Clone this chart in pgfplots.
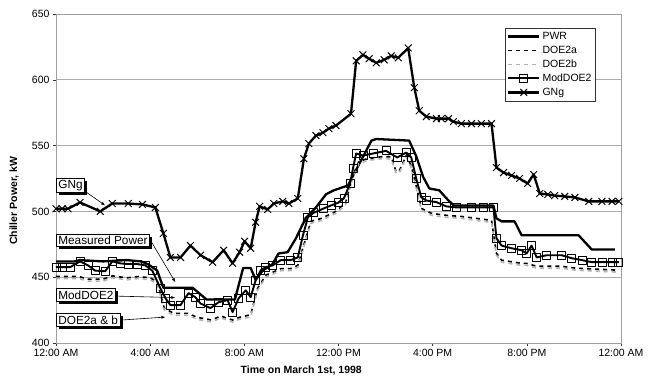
\documentclass[border=0pt]{standalone}
\usepackage{pgfplots}
\pgfplotsset{compat=1.18}
\usepackage{pgfplotstable}
\usepackage{fontspec}
\setmainfont{Liberation Sans}
\usetikzlibrary{shadows,arrows.meta}

\pgfplotstableread{
h v
0.0 462
0.8 462
1.0 463
2.0 462
3.0 463
3.6 462
3.9 460
4.3 455
4.56 442
5.8 442
6.4 433
7.6 433
7.95 457
8.27 457
8.48 448
8.78 455
9.2 460
9.45 468
9.84 469
10.19 479.5
10.61 495
11.04 503
11.47 513
11.8 516
12.4 519.7
13.4 553.8
13.6 555
15.0 553.8
15.3 542
15.6 526
15.86 517.4
16.28 516
16.67 508.3
16.9 504.5
18.58 504.5
18.71 494.7
18.93 492.4
19.48 492.4
19.78 481.8
22.2 481.8
22.76 471
23.74 471
}\pwr

\pgfplotstableread{
h v
0.0 449
1.0 449
1.3 447
2.0 447
2.4 449.5
3.0 448
3.5 449
4.0 448
4.3 445
4.6 425
5.0 421
5.6 421
6.0 418
6.6 416
7.0 419
7.5 416
7.8 418
8.27 420
8.56 440
8.91 450
9.55 455
9.97 455
10.27 457.6
10.61 478
10.83 491
11.25 493
11.89 498.5
12.3 505
12.6 525
12.85 536
13.2 538.6
13.8 540
14.24 540
14.45 528.8
14.6 530
14.88 541
15.09 533
15.3 518
15.52 500.8
15.95 497
16.58 495.5
17.2 494.7
18.5 491.7
18.71 466.7
18.93 461.4
19.78 459
19.99 459
20.42 456.8
21.48 456.8
22.12 455.3
23.91 453.8
}\doeb

\pgfplotstableread{
h v
0.0 450.5
1.0 450.5
1.3 448.5
2.0 448.5
2.4 451
3.0 449.5
3.5 450.5
4.0 449.5
4.3 446.5
4.6 426.5
5.0 422.5
5.6 422.5
6.0 419.5
6.6 417.5
7.0 420.5
7.5 417.5
7.8 419.5
8.27 421.5
8.56 441.5
8.91 451.5
9.55 456.5
9.97 456.5
10.27 459
10.61 479.5
10.83 492.5
11.25 494.5
11.89 500
12.3 506.5
12.6 526.5
12.85 537.5
13.2 540
13.8 541.5
14.24 541.5
14.45 530
14.6 531.5
14.88 542.5
15.09 534.5
15.3 519.5
15.52 502.3
15.95 498.5
16.58 497
17.2 496.2
18.5 493.2
18.71 468.2
18.93 462.9
19.78 460.5
19.99 460.5
20.42 458.3
21.48 458.3
22.12 456.8
23.91 455.3
}\doea

\pgfplotstableread{
h v
0.0 457.6
0.26 457.6
0.6 457.6
1.02 462
1.36 459
1.66 455
2.09 454.5
2.39 462
2.73 460.5
3.07 460
3.45 460
3.79 459
4.09 455
4.43 441.7
4.65 434
4.86 428.8
5.29 428.8
5.63 437.9
5.92 434.8
6.14 430
6.56 426.5
6.91 431
7.29 432.6
7.50 423.5
7.76 434
8.06 440
8.27 434.8
8.48 447.7
8.70 455.3
8.91 457.6
9.21 459
9.55 463
9.97 463
10.27 465
10.49 481.8
10.70 495.5
10.95 499
11.34 502
11.68 504.5
11.98 506.5
12.23 510
12.49 521
12.62 533
12.75 544
13.04 542.4
13.47 544
14.02 546
14.49 541
14.88 544.7
15.09 541
15.30 525
15.52 510.6
15.73 508.3
16.16 507
16.58 503.8
17.01 503
17.65 503
18.16 503
18.58 503
18.71 479.5
18.93 474
19.35 472
19.78 470.5
19.99 468
20.20 474
20.42 465
20.84 466.7
21.48 466.7
21.91 464.4
22.34 463
22.76 461.4
23.19 461.4
23.62 461.4
23.91 461.4
}\moddoe

\pgfplotstableread{
h v
0.0 502
0.26 502
0.51 502
1.02 506.8
1.88 500
2.39 506
3.07 506
3.67 505.3
4.22 503
4.56 483.3
4.86 465
5.29 465
5.71 474
6.14 466.7
6.65 461.4
7.12 470.5
7.50 460.6
7.80 469
8.01 477.3
8.27 472
8.48 491.7
8.65 503.8
8.99 501.5
9.25 506
9.63 507.6
9.89 506
10.27 509.8
10.53 540
10.74 551.5
11.04 557.6
11.34 559.8
11.59 562.9
11.89 565.2
12.53 574.2
12.75 614.4
13.04 619
13.30 616
13.60 612.9
13.94 615.2
14.24 618.2
14.54 616.7
14.96 624.2
15.22 594
15.43 576.5
15.73 572
16.16 570.5
16.37 570.5
16.67 570.5
16.88 568.2
17.22 566.7
17.65 566.7
18.07 566.7
18.50 566.7
18.71 533.3
19.01 529.5
19.35 527.3
19.69 525
20.03 521.2
20.29 528
20.55 513.6
20.89 512.9
21.18 512
21.61 511.4
22.04 510.6
22.63 507.6
23.19 507.6
23.62 507.6
23.91 507.6
}\gng

\begin{document}
\begin{tikzpicture}
\path[use as bounding box] (-56pt,-36pt) rectangle (594pt,343pt);
\begin{axis}[
  at={(0,0)}, anchor=south west,
  width=565pt, height=329pt, scale only axis,
  xmin=0, xmax=24, ymin=400, ymax=650,
  xtick={0,4,...,24},
  xticklabels={12:00 AM,4:00 AM,8:00 AM,12:00 PM,4:00 PM,8:00 PM,12:00 AM},
  ytick={400,450,...,650},
  ymajorgrids,
  grid style={gray!65, line width=0.6pt},
  tick align=outside, major tick length=3pt,
  tick style={black!80, line width=0.5pt},
  xtick pos=bottom, ytick pos=left,
  axis line style={gray!75, line width=0.8pt},
  /pgf/number format/assume math mode=true,
  ticklabel style={font=\fontsize{10.5}{12}\selectfont},
  xlabel={Time on March 1st, 1998},
  ylabel={Chiller Power, kW},
  label style={font=\bfseries\fontsize{10.5}{12}\selectfont},
  xlabel style={at={(axis description cs:0.434,-0.085)}, anchor=center},
  ylabel style={at={(axis description cs:-0.074,0.432)}, anchor=center},
  clip=false,
  legend style={at={(axis cs:22.93,639.4)}, anchor=north east,
    draw=black!80, line width=0.5pt, fill=white,
    font=\fontsize{10.5}{12}\selectfont, inner sep=2pt, row sep=1pt,
    cells={anchor=west}},
  legend image code/.code={\draw[mark repeat=2,mark phase=2] plot coordinates {(0cm,0cm) (0.55cm,0cm) (1.1cm,0cm)};},
]
\addplot[black, line width=2.3pt, line join=round] table[x=h,y=v]{\pwr};
\addlegendentry{PWR}
\addplot[black, line width=1.6pt, dash pattern=on 4pt off 4pt] table[x=h,y=v]{\doea};
\addlegendentry{DOE2a}
\addplot[gray!60, line width=1.6pt, dash pattern=on 4pt off 4pt] table[x=h,y=v]{\doeb};
\addlegendentry{DOE2b}
\addplot[black, line width=1.9pt, line join=round, mark=square, mark size=4pt,
  mark options={solid, fill=none, line width=0.8pt}] table[x=h,y=v]{\moddoe};
\addlegendentry{ModDOE2}
\addplot[black, line width=2.3pt, line join=round, mark=x, mark size=4.8pt,
  mark options={solid, line width=1pt}] table[x=h,y=v]{\gng};
\addlegendentry{GNg}

\tikzset{lab/.style={draw=black, line width=0.7pt, fill=white, inner sep=2pt,
  font=\fontsize{11.8}{14}\selectfont,
  drop shadow={shadow xshift=2.5pt, shadow yshift=-2.5pt, fill=black, opacity=1}}}
\tikzset{arr/.style={-{Latex[length=4pt,width=3pt]}, line width=0.6pt}}
\node[lab, anchor=west] (g) at (axis cs:0,519.7) {GNg};
\draw[arr] ([yshift=2pt]g.south east) -- (axis cs:2.09,504.5);
\node[lab, anchor=west] (mp) at (axis cs:0,478) {Measured Power};
\draw[arr] ([yshift=1pt]mp.east) -- (axis cs:5.07,446.2);
\node[lab, anchor=west] (md) at (axis cs:0,436.4) {ModDOE2};
\draw[arr] ([yshift=-1pt]md.east) -- (axis cs:5.07,434.5);
\node[lab, anchor=west] (dd) at (axis cs:0,417.4) {DOE2a \& b};
\draw[arr] (dd.east) -- (axis cs:4.65,419.7);
\end{axis}
\end{tikzpicture}
\end{document}
